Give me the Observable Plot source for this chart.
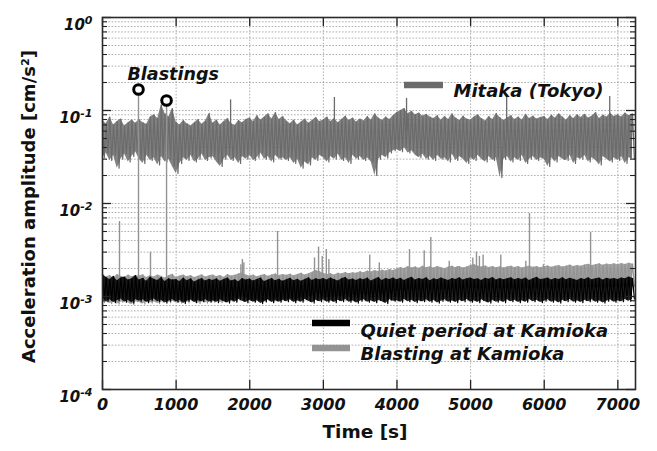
<!DOCTYPE html>
<html><head><meta charset="utf-8">
<script src="https://cdn.jsdelivr.net/npm/d3@7"></script>
<script src="https://cdn.jsdelivr.net/npm/@observablehq/plot@0.6"></script>
<style>body{margin:0;background:#fff;} #chart{width:657px;height:451px;}</style>
</head><body><div id="chart"></div>
<script>
// ---- data ----
// sample bins every 50 s from 0 to 7200 s; each bin holds the upper and lower edge of the noisy trace [cm/s^2]
const sampleTimes = d3.range(0, 7201, 50);

const mitakaHi = [
.078,.072,.085,.07,.076,.081,.068,.074,.079,.073,
.08,.074,.071,.085,.09,.082,.115,.092,.085,.105,
.075,.07,.078,.072,.068,.074,.08,.071,.077,.093,
.073,.079,.07,.076,.082,.072,.069,.078,.074,.08,
.083,.076,.088,.079,.085,.092,.081,.095,.08,.086,
.077,.072,.079,.07,.075,.081,.073,.078,.084,.076,
.079,.085,.076,.082,.074,.08,.087,.078,.083,.075,
.081,.077,.086,.079,.092,.083,.078,.085,.08,.088,
.095,.1,.105,.092,.098,.09,.094,.087,.091,.085,
.082,.088,.079,.086,.08,.092,.083,.078,.087,.081,
.079,.085,.09,.082,.077,.086,.08,.093,.084,.078,
.083,.088,.08,.085,.079,.091,.082,.087,.081,.084,
.086,.08,.089,.083,.092,.085,.079,.088,.082,.09,
.084,.091,.083,.087,.095,.082,.089,.085,.093,.086,
.09,.085,.094,.088,.092];
const mitakaLo = [
.031,.035,.029,.033,.024,.03,.034,.028,.032,.036,
.03,.027,.033,.029,.031,.026,.032,.028,.03,.025,
.021,.027,.031,.029,.033,.028,.03,.034,.029,.031,
.032,.028,.025,.03,.033,.029,.031,.027,.032,.03,
.033,.029,.031,.035,.03,.032,.028,.033,.03,.031,
.029,.031,.027,.03,.024,.028,.026,.031,.029,.033,
.031,.028,.032,.03,.034,.029,.031,.027,.033,.03,
.032,.029,.031,.028,.02,.03,.033,.031,.035,.037,
.038,.036,.04,.035,.037,.033,.031,.034,.03,.032,
.029,.033,.03,.031,.028,.034,.029,.032,.03,.027,
.031,.029,.033,.03,.028,.032,.029,.031,.019,.03,
.032,.028,.031,.029,.033,.027,.03,.032,.029,.031,
.03,.025,.031,.028,.032,.03,.029,.033,.027,.031,
.03,.033,.028,.031,.029,.026,.032,.03,.028,.031,
.029,.032,.027,.031,.03];

const quietHi = [
.00175,.0016,.00152,.00165,.00148,.00158,.00162,.0015,.00155,.00168,
.0015,.00157,.00146,.00162,.00153,.00149,.0016,.00145,.00155,.0015,
.00152,.00145,.00158,.00148,.00155,.00143,.0015,.00156,.00147,.00153,
.00149,.00155,.00146,.00152,.00158,.00147,.00151,.00144,.00156,.0015,
.00154,.00147,.00152,.00158,.00145,.0015,.00156,.00148,.00153,.00146,
.00151,.00157,.00148,.00153,.00146,.00152,.00159,.00149,.00155,.00151,
.00156,.0015,.00158,.00152,.00147,.00155,.0016,.0015,.00154,.00149,
.00155,.00151,.00158,.00147,.00153,.0016,.00149,.00156,.00152,.00158,
.00151,.00157,.00149,.00155,.00161,.0015,.00156,.00152,.00159,.00148,
.00155,.00151,.00158,.00153,.00149,.00156,.00152,.00159,.0015,.00155,
.00158,.00152,.00155,.00149,.00157,.00153,.0016,.0015,.00156,.00151,
.00155,.00159,.00151,.00156,.00152,.00158,.00149,.00155,.00161,.00152,
.00154,.00158,.0015,.00156,.00152,.00159,.00151,.00157,.00153,.00149,
.00156,.00152,.00159,.00151,.00155,.00158,.0015,.00157,.00153,.00156,
.00152,.00158,.00155,.00162,.00157];
const quietLo = [
.00095,.00088,.00092,.00086,.0009,.00094,.00087,.00091,.00085,.00093,
.00089,.00092,.00086,.0009,.00094,.00088,.00091,.00085,.00089,.00093,
.00087,.00091,.00084,.00089,.00092,.00086,.0009,.00088,.00093,.00087,
.0009,.00086,.00092,.00088,.00085,.00091,.00087,.00093,.00089,.00086,
.00091,.00087,.0009,.00084,.00088,.00092,.00086,.0009,.00087,.00091,
.00088,.00092,.00086,.0009,.00087,.00093,.00089,.00085,.00091,.00088,
.00092,.00087,.0009,.00086,.00091,.00088,.00093,.00087,.0009,.00085,
.00089,.00092,.00087,.0009,.00086,.00091,.00088,.00084,.00092,.00089,
.0009,.00087,.00093,.00088,.00091,.00086,.0009,.00088,.00092,.00087,
.00091,.00085,.00089,.00092,.00087,.0009,.00086,.00091,.00088,.00093,
.00087,.0009,.00086,.00092,.00088,.00085,.00091,.00087,.0009,.00086,
.00092,.00088,.00091,.00086,.0009,.00087,.00093,.00088,.00091,.00086,
.00089,.00092,.00087,.0009,.00085,.00091,.00088,.00093,.00087,.0009,
.00086,.00091,.00088,.00092,.00087,.0009,.00085,.00089,.00092,.00087,
.0009,.00088,.00093,.00089,.00094];

const blastHi = [
.0017,.00162,.00168,.00158,.00172,.00165,.0016,.0017,.00163,.00167,
.00166,.00171,.0016,.00168,.00162,.0017,.00165,.00158,.00167,.00173,
.00161,.00166,.0017,.00163,.00168,.0016,.00165,.00171,.00162,.00167,
.0017,.00164,.00168,.00161,.00172,.00166,.00169,.00175,.0018,.0017,
.00166,.0017,.00163,.00168,.00172,.00165,.0017,.00175,.00168,.00172,
.00169,.00174,.00167,.00172,.00178,.0017,.00176,.00182,.0019,.00185,
.00178,.00172,.00176,.0017,.00178,.00175,.00181,.00176,.0018,.00178,
.00185,.0018,.00188,.00183,.0019,.00186,.00192,.00188,.00195,.0019,
.00198,.00205,.002,.0021,.00203,.00208,.00201,.00212,.00204,.00209,
.00202,.0021,.00205,.00199,.00207,.00212,.00204,.0021,.00203,.00208,
.00215,.0022,.00212,.00207,.00213,.00205,.0021,.00204,.00209,.00203,
.00208,.00212,.00205,.0021,.00203,.00208,.00213,.00206,.0021,.00204,
.00209,.00213,.00206,.00211,.00215,.00208,.00212,.00218,.0021,.00215,
.00212,.00218,.00222,.00215,.0022,.00225,.00217,.00223,.00219,.00225,
.0022,.00226,.00221,.00228,.00224];
const blastLo = [
.00086,.0009,.00084,.00088,.00083,.00087,.0009,.00085,.00082,.00088,
.00086,.00083,.00089,.00085,.00088,.00084,.00087,.00091,.00086,.00089,
.00088,.00085,.00089,.00086,.0009,.00087,.00084,.00088,.00085,.0009,
.00087,.00091,.00086,.00089,.00092,.00088,.00094,.00097,.001,.00095,
.00091,.00088,.00093,.0009,.00087,.00092,.00089,.00094,.0009,.00093,
.00092,.00095,.0009,.00094,.00097,.00093,.00098,.00102,.00108,.00105,
.001,.00097,.00101,.00098,.00102,.00099,.00103,.001,.00104,.00101,
.00104,.00107,.00103,.00108,.00105,.0011,.00106,.00111,.00108,.00112,
.00113,.00117,.00112,.00118,.00115,.0012,.00114,.00119,.00116,.00121,
.00117,.00122,.00116,.0012,.00118,.00123,.00117,.00121,.00119,.00124,
.00122,.00126,.0012,.00124,.00119,.00123,.00121,.00125,.0012,.00124,
.00121,.00125,.00119,.00123,.00121,.00126,.0012,.00124,.00122,.00126,
.00123,.00127,.00121,.00125,.00122,.00126,.00124,.00128,.00122,.00126,
.00124,.00128,.00123,.00127,.00125,.00129,.00124,.00128,.00126,.0013,
.00127,.00131,.00126,.0013,.00128];

// isolated spikes: time [s] and peak amplitude [cm/s^2]
const blastSpikeT = [231,489,652,870,1880,1900,1920,2378,2880,2935,2985,3040,3075,3630,3760,4170,4370,4460,4710,4820,5030,5080,5120,5170,5410,5750,5800,5990,6630];
const blastSpikeV = [.0064,.168,.003,.128,.0022,.0025,.0023,.005,.0026,.0034,.0027,.0032,.0025,.0028,.0023,.0032,.0031,.0043,.0024,.0021,.0026,.003,.0027,.0028,.0028,.0024,.0078,.0022,.0049];
const blastBase = .0013;
const mitakaSpikeT = [1740,3150,4130,5490,6890];
const mitakaSpikeV = [.13,.138,.135,.145,.141];
const mitakaBase = .06;
// circled blastings
const circleT = [489,870];
const circleV = [.168,.128];

// axes
const xTicks = [0,1000,2000,3000,4000,5000,6000,7000];
const xTickLabels = ["0","1000","2000","3000","4000","5000","6000","7000"];
const yDecades = [1e-4,1e-3,1e-2,1e-1,1];
const yTickExp = ["-4","-3","-2","-1","0"];
const yMinor = [];
[1e-4,1e-3,1e-2,1e-1].forEach(d => [2,3,4,5,6,7,8,9].forEach(m => yMinor.push(d*m)));

const legendLabels = ["Mitaka (Tokyo)","Quiet period at Kamioka","Blasting at Kamioka"];
const colMitaka = "#6b6b6b", colQuiet = "#000000", colBlast = "#939393";

// ---- build tables ----
function zig(hi, lo) {
  const out = [];
  sampleTimes.forEach((t, i) => { out.push({t, v: hi[i]}); out.push({t: t + 25, v: lo[i]}); });
  return out;
}
function band(hi, lo) { return sampleTimes.map((t, i) => ({t, hi: hi[i], lo: lo[i]})); }
const series = [
  {zz: zig(mitakaHi, mitakaLo), bd: band(mitakaHi, mitakaLo), c: colMitaka},
  {zz: zig(blastHi, blastLo), bd: band(blastHi, blastLo), c: colBlast},
  {zz: zig(quietHi, quietLo), bd: band(quietHi, quietLo), c: colQuiet}
];
const blastSpikes = blastSpikeT.map((t, i) => ({t, v: blastSpikeV[i]}));
const mitakaSpikes = mitakaSpikeT.map((t, i) => ({t, v: mitakaSpikeV[i]}));
const circles = circleT.map((t, i) => ({t, v: circleV[i]}));

const FW = 657 - 102 - 22, FH = 451 - 17 - 62;
const F = "DejaVu Sans";

function traceMarks(s) {
  return [
    Plot.areaY(s.bd, {x: "t", y1: "lo", y2: "hi", fill: s.c, fillOpacity: 0.85}),
    Plot.line(s.zz, {x: "t", y: "v", stroke: s.c, strokeWidth: 1.2})
  ];
}

const svg = Plot.plot({
  width: 657, height: 451,
  marginLeft: 102, marginRight: 22, marginTop: 17, marginBottom: 62,
  x: {domain: [0, 7240], axis: null},
  y: {type: "log", domain: [1e-4, 1], axis: null},
  style: {fontFamily: F, background: "#fff", color: "#111"},
  marks: [
    Plot.ruleY(yMinor.concat(yDecades), {stroke: "#9a9a9a", strokeWidth: 0.8, strokeDasharray: "1.6,1.6"}),
    Plot.ruleX(xTicks.slice(1), {stroke: "#9a9a9a", strokeWidth: 0.8, strokeDasharray: "1.6,1.6"}),
    ...traceMarks(series[0]),
    Plot.ruleX(mitakaSpikes, {x: "t", y1: mitakaBase, y2: "v", stroke: colMitaka, strokeWidth: 1.3}),
    ...traceMarks(series[1]),
    Plot.ruleX(blastSpikes, {x: "t", y1: blastBase, y2: "v", stroke: colBlast, strokeWidth: 1.4}),
    ...traceMarks(series[2]),
    Plot.dot(circles, {x: "t", y: "v", r: 4.8, stroke: "#000", strokeWidth: 3, fill: "#fff"}),
    // inward ticks
    Plot.ruleX(xTicks, {x: d => d, insetTop: FH - 9, stroke: "#222", strokeWidth: 1.3}),
    Plot.ruleX(xTicks, {x: d => d, insetBottom: FH - 9, stroke: "#222", strokeWidth: 1.3}),
    Plot.ruleY(yDecades, {y: d => d, insetRight: FW - 9, stroke: "#222", strokeWidth: 1.3}),
    Plot.ruleY(yDecades, {y: d => d, insetLeft: FW - 9, stroke: "#222", strokeWidth: 1.3}),
    Plot.ruleY(yMinor, {y: d => d, insetRight: FW - 5, stroke: "#222", strokeWidth: 1.1}),
    Plot.ruleY(yMinor, {y: d => d, insetLeft: FW - 5, stroke: "#222", strokeWidth: 1.1}),
    Plot.frame({stroke: "#2a2a2a", strokeWidth: 1.6}),
    // tick labels
    Plot.text(xTicks, {x: d => d, frameAnchor: "bottom", dy: 20, text: (d, i) => xTickLabels[i],
      fontSize: 16, fontWeight: "bold", fontStyle: "italic", fill: "#111"}),
    Plot.text(yDecades, {y: d => d, frameAnchor: "left", dx: -10, dy: 8, textAnchor: "end", text: (d, i) => yTickExp[i],
      fontSize: 15, fontWeight: "bold", fontStyle: "italic", fill: "#111", ariaDescription: "ytick"}),
    // axis titles
    Plot.text(["Time [s]"], {frameAnchor: "bottom", dy: 48, dx: -4, text: d => d, fontSize: 18.5, fontWeight: "bold", fill: "#111"}),
    Plot.text(["Acceleration amplitude [cm/s²]"], {frameAnchor: "left", textAnchor: "middle", dx: -73, dy: 3, rotate: -90, text: d => d,
      fontSize: 18, fontWeight: "bold", fill: "#111"}),
    // annotations and legend text
    Plot.text(["Blastings"], {frameAnchor: "top-left", dx: 25, dy: 50, textAnchor: "start", text: d => d,
      fontSize: 17.5, fontWeight: "bold", fontStyle: "italic", fill: "#111"}),
    Plot.text([legendLabels[0]], {frameAnchor: "top-left", dx: 351, dy: 67, textAnchor: "start", text: d => d,
      fontSize: 18, fontWeight: "bold", fontStyle: "italic", fill: "#111"}),
    Plot.text([legendLabels[1]], {frameAnchor: "top-left", dx: 258, dy: 307, textAnchor: "start", text: d => d,
      fontSize: 18, fontWeight: "bold", fontStyle: "italic", fill: "#111"}),
    Plot.text([legendLabels[2]], {frameAnchor: "top-left", dx: 258, dy: 330, textAnchor: "start", text: d => d,
      fontSize: 18, fontWeight: "bold", fontStyle: "italic", fill: "#111"})
  ]
});

// superscript exponents on the y tick labels
d3.select(svg).selectAll('g[aria-description="ytick"] text').each(function() {
  const e = this.textContent;
  const s = d3.select(this);
  s.text(null);
  s.append("tspan").text("10");
  s.append("tspan").attr("dy", "-0.55em").attr("font-size", "11px").text(e);
});

// legend swatches
const sw = d3.select(svg).append("g");
[[404, 443, 85, colMitaka], [312, 350, 323, colQuiet], [312, 350, 348, colBlast]].forEach(([x1, x2, y, c]) => {
  sw.append("line").attr("x1", x1).attr("x2", x2).attr("y1", y).attr("y2", y)
    .attr("stroke", c).attr("stroke-width", 6.5);
});

document.getElementById("chart").appendChild(svg);
</script></body></html>
